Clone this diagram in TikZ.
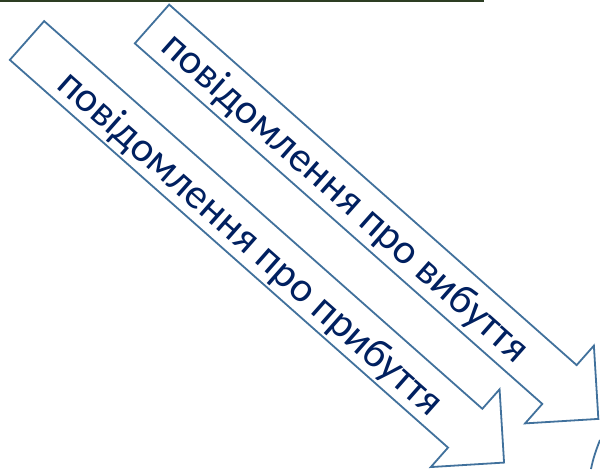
\documentclass[tikz,border=0pt]{standalone}
\usepackage{fontspec}
\setmainfont{Carlito}
\usetikzlibrary{shapes.arrows}
\definecolor{rim}{RGB}{65,113,156}
\definecolor{ink}{RGB}{0,32,96}
\definecolor{moss}{RGB}{45,62,35}

\begin{document}
\begin{tikzpicture}[x=1pt,y=-1pt,
                    msg/.style={single arrow,draw=rim,fill=white,line width=1.8pt,
                      inner xsep=0pt,inner ysep=25pt,outer sep=0pt,minimum width=0pt,
                      single arrow head extend=26pt,rotate=-41.5,anchor=tail},
                    msgtext/.style={text=ink,font=\fontsize{42}{46}\selectfont,
                      inner sep=0pt,rotate=-41.5,anchor=base west}]

  \useasboundingbox (0,0) rectangle (600,469);
  \fill[moss] (0,0) rectangle (484,1.5);

  \node[msg,minimum height=637pt] (arrL) at (27,40.5) {};
  \node[msg,minimum height=596pt] (arrR) at (152,24)  {};

  \node[msgtext] (txtL) at (55.3,86.9) {повідомлення про прибуття};
  \node[msgtext] (txtR) at (159.2,49.1) {повідомлення про вибуття};

  \draw[rim,line width=1.8pt] (600,440) .. controls (596,450) and (593,459) .. (591,469);
\end{tikzpicture}
\end{document}
